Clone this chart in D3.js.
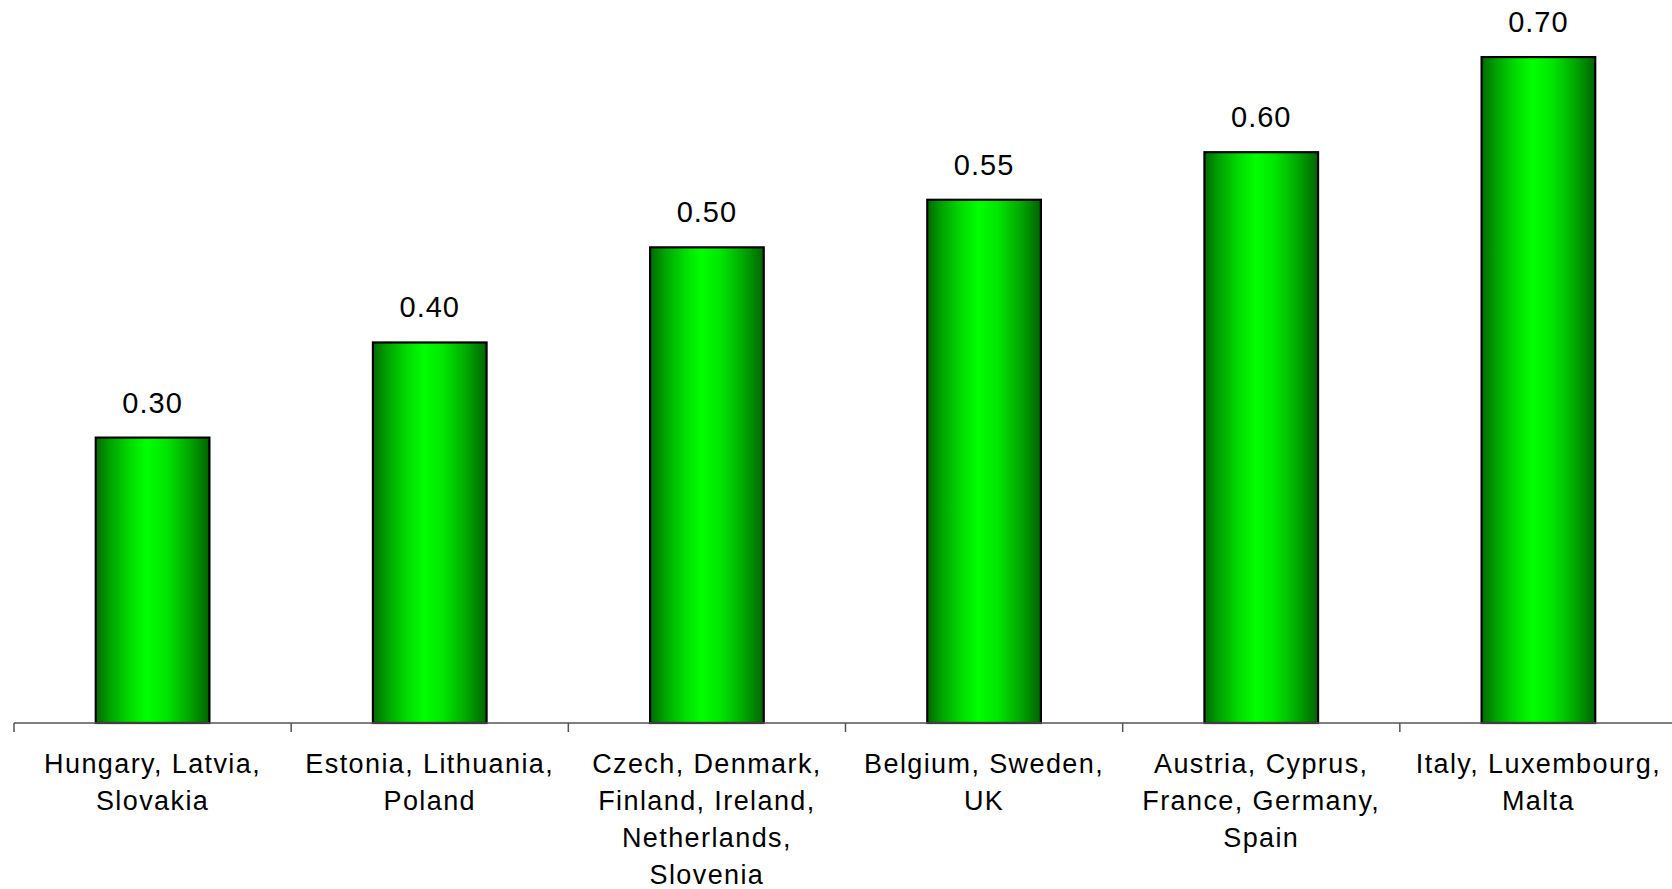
<!DOCTYPE html>
<html>
<head>
<meta charset="utf-8">
<script src="https://cdn.jsdelivr.net/npm/d3@7"></script>
<style>
  html, body { margin: 0; padding: 0; background: #ffffff; }
  svg { display: block; }
</style>
</head>
<body>
<svg id="chart" width="1672" height="889"></svg>
<script>
// Country groups (one label line per entry) and their values
const categories = [
  ["Hungary, Latvia,", "Slovakia"],
  ["Estonia, Lithuania,", "Poland"],
  ["Czech, Denmark,", "Finland, Ireland,", "Netherlands,", "Slovenia"],
  ["Belgium, Sweden,", "UK"],
  ["Austria, Cyprus,", "France, Germany,", "Spain"],
  ["Italy, Luxembourg,", "Malta"]
];
const values = [0.30, 0.40, 0.50, 0.55, 0.60, 0.70];
const valueLabels = ["0.30", "0.40", "0.50", "0.55", "0.60", "0.70"];

const svg = d3.select("#chart");
const W = 1672;
const left = 14;
const right = 1677;
const baseY = 723;

const keys = categories.map((c, i) => i);

const x = d3.scaleBand()
  .domain(keys)
  .range([left, right])
  .paddingInner(0.59)
  .paddingOuter(0.295);

const y = d3.scaleLinear()
  .domain([0, 0.76])
  .range([baseY, 0]);

// Horizontal gradient giving the bars their cylindrical shading
const defs = svg.append("defs");
const grad = defs.append("linearGradient")
  .attr("id", "barShade")
  .attr("x1", "0%").attr("x2", "100%")
  .attr("y1", "0%").attr("y2", "0%");
[
  [0, "#006a00"],
  [0.12, "#00a000"],
  [0.30, "#00dc00"],
  [0.45, "#00ff00"],
  [0.62, "#00e600"],
  [0.82, "#00a800"],
  [1, "#006400"]
].forEach(([o, c]) => grad.append("stop").attr("offset", o).attr("stop-color", c));

// Bars
svg.append("g")
  .selectAll("rect")
  .data(values)
  .join("rect")
  .attr("x", (d, i) => x(i))
  .attr("y", d => y(d))
  .attr("width", x.bandwidth())
  .attr("height", d => y(0) - y(d))
  .attr("fill", "url(#barShade)")
  .attr("stroke", "#000")
  .attr("stroke-width", 2.2);

// Category axis: boundary ticks between groups
const axisG = svg.append("g");
axisG.append("line")
  .attr("x1", left).attr("x2", W)
  .attr("y1", baseY).attr("y2", baseY)
  .attr("stroke", "#555").attr("stroke-width", 1.5);
const step = x.step();
const boundaries = d3.range(categories.length + 1).map(i => left + i * step);
axisG.selectAll("line.tick")
  .data(boundaries)
  .join("line")
  .attr("class", "tick")
  .attr("x1", d => d).attr("x2", d => d)
  .attr("y1", baseY).attr("y2", baseY + 9)
  .attr("stroke", "#555").attr("stroke-width", 1.5);

// Category labels
const labelG = svg.append("g")
  .attr("font-family", "Liberation Sans, Arial, sans-serif")
  .attr("font-size", 27)
  .attr("letter-spacing", "1.4px")
  .attr("fill", "#000")
  .attr("text-anchor", "middle");
categories.forEach((lines, i) => {
  const cx = x(i) + x.bandwidth() / 2;
  const t = labelG.append("text")
    .attr("x", cx)
    .attr("y", 773);
  lines.forEach((ln, j) => {
    t.append("tspan")
      .attr("x", cx)
      .attr("y", 773 + j * 37)
      .text(ln);
  });
});

// Value labels above bars
svg.append("g")
  .attr("font-family", "Liberation Sans, Arial, sans-serif")
  .attr("font-size", 29)
  .attr("letter-spacing", "1px")
  .attr("fill", "#000")
  .attr("text-anchor", "middle")
  .selectAll("text")
  .data(values)
  .join("text")
  .attr("x", (d, i) => x(i) + x.bandwidth() / 2)
  .attr("y", d => y(d) - 25)
  .text((d, i) => valueLabels[i]);
</script>
</body>
</html>
